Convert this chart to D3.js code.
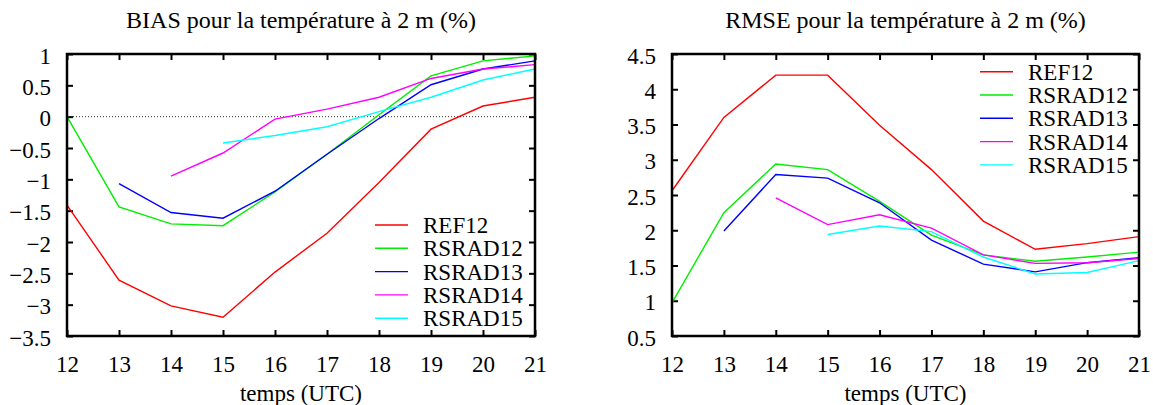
<!DOCTYPE html>
<html><head><meta charset="utf-8">
<script src="https://cdn.jsdelivr.net/npm/d3@7"></script>
<style>
html,body{margin:0;padding:0;background:#fff;}
svg{display:block;}
svg text{font-family:"Liberation Serif","Times New Roman",serif !important;fill:#000;}
</style></head>
<body>
<svg id="c" width="1153" height="405"></svg>
<script>
const hours = [12,13,14,15,16,17,18,19,20,21];
const seriesNames = ["REF12","RSRAD12","RSRAD13","RSRAD14","RSRAD15"];
const seriesColors = ["#ff0000","#00ee00","#0000ff","#ff00ff","#00ffff"];

const biasREF12   = [-1.41,-2.61,-3.02,-3.20,-2.48,-1.86,-1.05,-0.20,0.17,0.31];
const biasRSRAD12 = [0.00,-1.44,-1.71,-1.74,-1.20,-0.60,0.03,0.65,0.89,0.97];
const biasRSRAD13 = [null,-1.07,-1.53,-1.62,-1.19,-0.60,-0.03,0.51,0.76,0.89];
const biasRSRAD14 = [null,null,-0.95,-0.58,-0.04,0.12,0.31,0.61,0.76,0.83];
const biasRSRAD15 = [null,null,null,-0.42,-0.30,-0.16,0.08,0.31,0.585,0.76];

const rmseREF12   = [2.56,3.60,4.20,4.20,3.49,2.86,2.13,1.73,1.81,1.91];
const rmseRSRAD12 = [0.97,2.25,2.94,2.86,2.41,1.93,1.65,1.56,1.62,1.69];
const rmseRSRAD13 = [null,1.99,2.79,2.74,2.39,1.86,1.52,1.41,1.54,1.61];
const rmseRSRAD14 = [null,null,2.46,2.08,2.22,2.03,1.65,1.53,1.54,1.60];
const rmseRSRAD15 = [null,null,null,1.94,2.06,1.98,1.62,1.38,1.40,1.57];

const biasTicks = [1,0.5,0,-0.5,-1,-1.5,-2,-2.5,-3,-3.5];
const rmseTicks = [4.5,4,3.5,3,2.5,2,1.5,1,0.5];

const svg = d3.select("#c");
const fmt = d3.format("~g");
const FONT = "'Liberation Serif', 'Times New Roman', serif";

function panel(opts){
  const {x0,x1,y0,y1,ydom,yticks,title,xlabel,data,legend,zeroLine} = opts;
  const g = svg.append("g");
  const x = d3.scaleLinear().domain([12,21]).range([x0,x1]);
  const y = d3.scaleLinear().domain(ydom).range([y1,y0]);
  const T = 6;
  const aL = g.append("g").attr("transform",`translate(${x0},0)`)
    .call(d3.axisLeft(y).tickValues(yticks).tickSize(-T).tickPadding(T+10).tickFormat(fmt));
  const aR = g.append("g").attr("transform",`translate(${x1},0)`)
    .call(d3.axisRight(y).tickValues(yticks).tickSize(-T).tickFormat(""));
  const aB = g.append("g").attr("transform",`translate(0,${y1})`)
    .call(d3.axisBottom(x).tickValues(hours).tickSize(-T).tickPadding(T+14).tickFormat(fmt));
  const aT = g.append("g").attr("transform",`translate(0,${y0})`)
    .call(d3.axisTop(x).tickValues(hours).tickSize(-T).tickFormat(""));
  [aL,aR,aB,aT].forEach(a=>{
    a.attr("font-family",null).attr("font-size",null);
    a.select(".domain").remove();
    a.selectAll(".tick line").attr("stroke","#000").attr("stroke-width",2);
    a.selectAll("text").style("font-family",FONT).style("font-size","23px").attr("fill","#000");
  });
  aL.selectAll("text").attr("dy","0.4em");
  if(zeroLine){
    g.append("line").attr("x1",x(12)).attr("x2",x(21)).attr("y1",y(0)).attr("y2",y(0))
      .attr("stroke","#000").attr("stroke-width",0.8).attr("stroke-dasharray","1,2");
  }
  const line = d3.line().defined(d=>d[1]!==null).x(d=>x(d[0])).y(d=>y(d[1]));
  data.forEach((vals,i)=>{
    g.append("path").datum(hours.map((h,j)=>[h,vals[j]]))
      .attr("d",line).attr("fill","none").attr("stroke",seriesColors[i]).attr("stroke-width",1.4);
  });
  g.append("rect").attr("x",x0).attr("y",y0).attr("width",x1-x0).attr("height",y1-y0)
    .attr("fill","none").attr("stroke","#000").attr("stroke-width",2.5);
  g.append("text").attr("x",(x0+x1)/2).attr("y",28).attr("text-anchor","middle")
    .style("font-family",FONT).style("font-size","24px").text(title);
  g.append("text").attr("x",(x0+x1)/2).attr("y",401).attr("text-anchor","middle")
    .style("font-family",FONT).style("font-size","23px").text(xlabel);
  seriesNames.forEach((n,i)=>{
    const ly = legend.y + i*23.3;
    g.append("line").attr("x1",legend.x).attr("x2",legend.x+33).attr("y1",ly).attr("y2",ly)
      .attr("stroke",seriesColors[i]).attr("stroke-width",1.4);
    g.append("text").attr("x",legend.x+48).attr("y",ly).attr("dy","0.35em")
      .style("font-family",FONT).style("font-size","23px").text(n);
  });
}

panel({x0:67,x1:535,y0:54,y1:336,ydom:[-3.5,1],yticks:biasTicks,
  title:"BIAS pour la température à 2 m (%)",xlabel:"temps (UTC)",
  data:[biasREF12,biasRSRAD12,biasRSRAD13,biasRSRAD14,biasRSRAD15],
  legend:{x:375,y:225},zeroLine:true});
panel({x0:672,x1:1139,y0:54,y1:336,ydom:[0.5,4.5],yticks:rmseTicks,
  title:"RMSE pour la température à 2 m (%)",xlabel:"temps (UTC)",
  data:[rmseREF12,rmseRSRAD12,rmseRSRAD13,rmseRSRAD14,rmseRSRAD15],
  legend:{x:980,y:71.7},zeroLine:false});
</script>
</body></html>
